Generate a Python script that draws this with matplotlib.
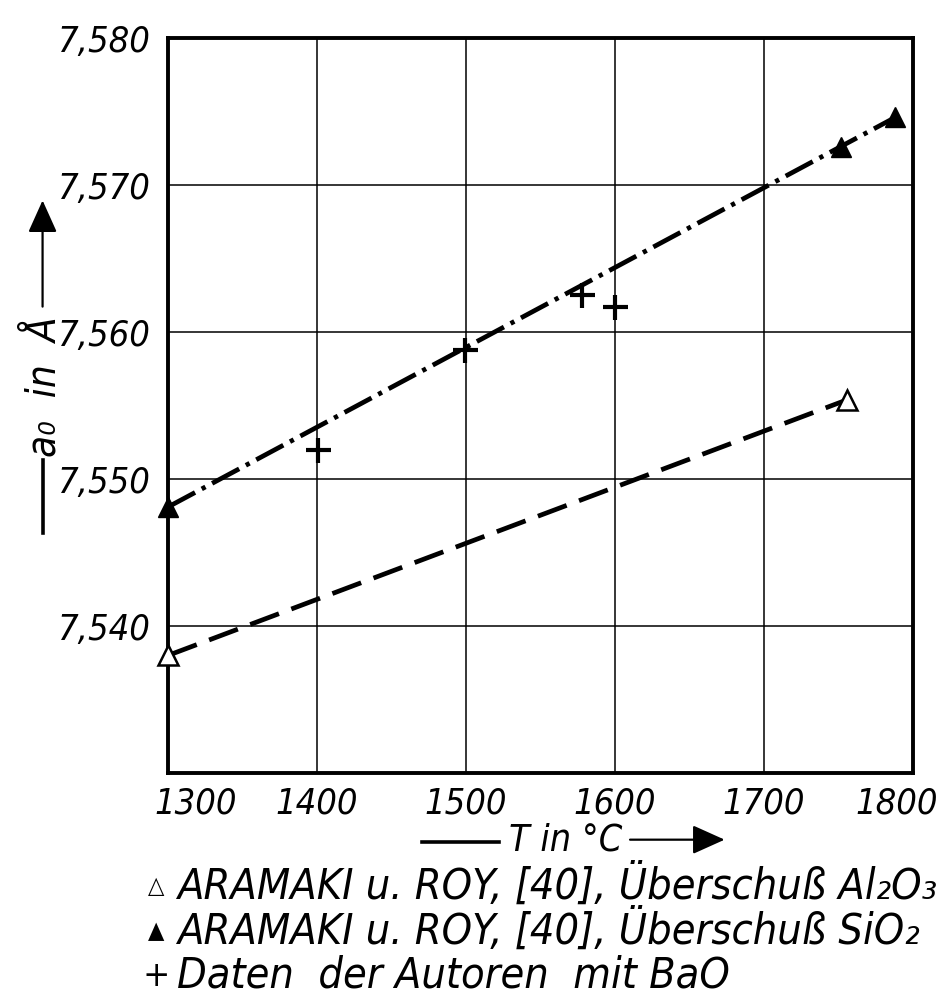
import matplotlib
matplotlib.use('Agg')
import matplotlib.pyplot as plt
from matplotlib.patches import FancyArrowPatch
from matplotlib.transforms import ScaledTranslation

# data
temp_al2o3 = [1300, 1756]
a0_al2o3 = [7.5380, 7.5554]

temp_sio2 = [1300, 1752, 1788]
a0_sio2 = [7.5481, 7.5726, 7.5746]

temp_bao = [1401, 1499, 1578, 1600]
a0_bao = [7.5520, 7.5588, 7.5625, 7.5617]

x_ticks = [1300, 1400, 1500, 1600, 1700, 1800]
x_tick_labels = ['1300', '1400', '1500', '1600', '1700', '1800']
y_ticks = [7.540, 7.550, 7.560, 7.570, 7.580]
y_tick_labels = ['7,540', '7,550', '7,560', '7,570', '7,580']

legend_marks = ['\u25b3', '\u25b2', '+']
legend_texts = ['ARAMAKI u. ROY, [40], Überschuß Al\u2082O\u2083',
                'ARAMAKI u. ROY, [40], Überschuß SiO\u2082',
                'Daten  der Autoren  mit BaO']

plt.rcParams['font.family'] = ['DejaVu Sans']
plt.rcParams['font.style'] = 'italic'
plt.rcParams['font.stretch'] = 'condensed'

fig = plt.figure(figsize=(9.46, 10.02), dpi=100)
ax = fig.add_axes([0.1776, 0.2285, 0.7875, 0.7335])

# fitted lines
ax.plot([temp_sio2[0], temp_sio2[-1]], [a0_sio2[0], a0_sio2[-1]],
        color='black', lw=3.4, dashes=(6.5, 1.6, 0.9, 1.6), zorder=3)
ax.plot(temp_al2o3, a0_al2o3, color='black', lw=3.4, dashes=(6.5, 2.8), zorder=3)

# data points
ax.plot(temp_al2o3, a0_al2o3, ls='none', marker='^', ms=15, mfc='white',
        mec='black', mew=1.8, zorder=4, clip_on=False)
ax.plot(temp_sio2, a0_sio2, ls='none', marker='^', ms=15, mfc='black',
        mec='black', zorder=4, clip_on=False)
ax.plot(temp_bao, a0_bao, ls='none', marker='+', ms=18, mew=3,
        color='black', zorder=4)

ax.set_xlim(1300, 1800)
ax.set_ylim(7.530, 7.580)
ax.set_xticks(x_ticks)
ax.set_xticklabels(x_tick_labels, fontsize=26)
ax.set_yticks(y_ticks)
ax.set_yticklabels(y_tick_labels, fontsize=26)
ax.tick_params(length=0)
ax.tick_params(axis='x', pad=10)
ax.tick_params(axis='y', pad=12)
ax.grid(True, color='black', lw=1.1)
for s in ax.spines.values():
    s.set_linewidth(2.8)

# first and last x labels pulled inward like the original
xl = ax.get_xticklabels()
xl[0].set_transform(xl[0].get_transform() + ScaledTranslation(0.28, 0, fig.dpi_scale_trans))
xl[-1].set_transform(xl[-1].get_transform() + ScaledTranslation(-0.16, 0, fig.dpi_scale_trans))

arrow_style = '-|>,head_length=1.0,head_width=0.45'

# x axis label with arrow
fig.text(0.598, 0.161, 'T in °C', fontsize=27, ha='center', va='center')
fig.add_artist(plt.Line2D([0.446, 0.528], [0.160, 0.160], color='black', lw=2.6))
fig.add_artist(FancyArrowPatch((0.666, 0.162), (0.766, 0.162), transform=fig.transFigure,
                               arrowstyle=arrow_style, mutation_scale=20,
                               color='black', lw=1.6, shrinkA=0, shrinkB=0))

# y axis label with arrow
fig.text(0.046, 0.614, 'a\u2080  in  Å', fontsize=29, rotation=90, ha='center', va='center')
fig.add_artist(plt.Line2D([0.045, 0.045], [0.468, 0.541], color='black', lw=2.6))
fig.add_artist(FancyArrowPatch((0.045, 0.694), (0.045, 0.800), transform=fig.transFigure,
                               arrowstyle=arrow_style, mutation_scale=20,
                               color='black', lw=1.6, shrinkA=0, shrinkB=0))

# legend as text lines below the axis
for i, (m, t) in enumerate(zip(legend_marks, legend_texts)):
    y = 0.116 - i * 0.045
    fig.text(0.165, y, m, fontsize=17 if i < 2 else 26, ha='center', va='center',
             style='normal')
    fig.text(0.187, y, t, fontsize=31, ha='left', va='center')

fig.savefig('out.png', dpi=100, facecolor='white')
